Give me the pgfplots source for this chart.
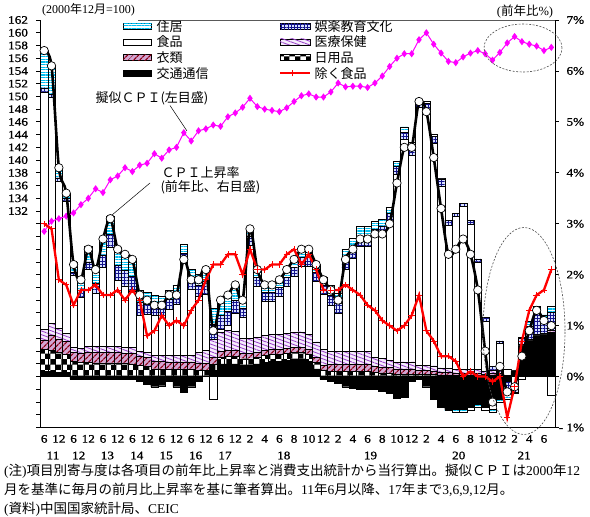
\documentclass[border=0pt]{standalone}
\usepackage{fontspec}
\setmainfont{Liberation Serif}
\newfontfamily\jp{Noto Sans CJK JP}
\newfontfamily\tnum[FakeStretch=1.15,FakeBold=1]{Liberation Serif}
\usepackage{pgfplots}
\usepackage{pgfplotstable}
\pgfplotsset{compat=1.18}
\usetikzlibrary{patterns,patterns.meta}
\newcommand\J[1]{{\jp #1}}

\definecolor{cyS}{RGB}{0,190,240}
\definecolor{navyS}{RGB}{20,20,140}
\definecolor{gridbg}{RGB}{215,225,255}
\definecolor{medbg}{RGB}{245,236,252}
\definecolor{medfg}{RGB}{150,60,200}
\definecolor{clbg}{RGB}{210,165,210}
\definecolor{clfg}{RGB}{140,0,20}
\definecolor{mag}{RGB}{255,0,255}

\tikzset{
 barline/.style={draw=black, line width=0.45pt},
 sB/.style={barline, fill=black},
 sD/.style={barline, fill=white, postaction={pattern=checkerboard, pattern color=black}},
 sC/.style={barline, fill=clbg, postaction={pattern={Lines[angle=45,distance=4pt,line width=1.3pt]}, pattern color=clfg}},
 sM/.style={barline, fill=medbg, postaction={pattern={Lines[angle=-20,distance=3.5pt,line width=0.8pt]}, pattern color=medfg}},
 sF/.style={barline, fill=white},
 sE/.style={barline, fill=gridbg, postaction={pattern={Lines[angle=0,distance=3.2pt,line width=0.9pt]}, pattern color=navyS}, postaction={pattern={Lines[angle=90,distance=3.2pt,line width=0.9pt]}, pattern color=navyS}},
 sH/.style={barline, fill=white, postaction={pattern={Lines[angle=0,distance=2.6pt,line width=1.2pt]}, pattern color=cyS}},
}

\pgfplotstableread{
i B D C M F E H cpi core pc
0 0.10 0.44 0.18 0.20 4.67 0.08 0.74 6.4 3.0 128.8
1 0.10 0.42 0.30 0.22 4.44 0.07 0.55 6.1 2.9 130.4
2 0.08 0.40 0.26 0.20 2.90 0.06 0.20 4.1 1.9 130.8
3 0.08 0.35 0.26 0.16 2.60 0.05 0.10 3.6 1.8 131.2
4 -0.05 0.30 0.18 0.10 1.40 0.07 0.20 2.2 1.4 131.7
5 -0.05 0.28 0.17 0.10 1.00 0.15 0.25 1.9 1.7 133.0
6 -0.05 0.28 0.20 0.12 1.50 0.15 0.30 2.5 1.7 134.0
7 -0.05 0.27 0.20 0.12 1.05 0.20 0.30 2.1 1.8 135.5
8 -0.05 0.27 0.20 0.12 1.55 0.25 0.35 2.7 1.6 134.9
9 -0.05 0.27 0.20 0.12 1.95 0.25 0.35 3.1 1.6 136.9
10 -0.05 0.27 0.20 0.12 1.30 0.30 0.35 2.5 1.7 137.5
11 -0.05 0.26 0.20 0.12 1.20 0.30 0.35 2.4 1.5 138.8
12 -0.05 0.25 0.20 0.12 1.10 0.30 0.35 2.3 1.7 138.2
13 -0.10 0.22 0.18 0.10 0.70 0.25 0.25 1.6 1.5 139.2
14 -0.15 0.20 0.17 0.10 0.75 0.20 0.23 1.5 0.8 139.5
15 -0.20 0.15 0.15 0.12 0.78 0.20 0.20 1.4 0.9 141.0
16 -0.18 0.15 0.15 0.12 0.78 0.20 0.18 1.4 1.2 140.3
17 -0.10 0.14 0.15 0.13 0.90 0.20 0.18 1.6 1.0 141.6
18 -0.20 0.14 0.15 0.13 1.00 0.20 0.18 1.6 1.1 142.0
19 -0.30 0.14 0.15 0.13 1.80 0.20 0.18 2.3 1.0 144.3
20 -0.20 0.14 0.15 0.13 1.30 0.20 0.18 1.9 1.3 143.0
21 -0.10 0.13 0.14 0.20 1.10 0.23 0.20 1.9 1.5 144.6
22 0.00 0.13 0.14 0.25 1.10 0.25 0.23 2.1 1.9 144.9
23 0.12 0.13 0.13 0.35 -0.45 0.30 0.32 0.9 2.2 145.5
24 0.25 0.13 0.12 0.38 0.05 0.27 0.30 1.5 2.2 145.3
25 0.25 0.14 0.12 0.40 0.10 0.27 0.32 1.6 2.4 146.8
26 0.25 0.14 0.12 0.38 0.35 0.26 0.30 1.8 2.4 147.4
27 0.22 0.13 0.10 0.30 0.42 0.18 0.15 1.5 2.0 148.3
28 0.22 0.13 0.10 0.30 1.82 0.18 0.15 2.9 2.5 149.7
29 0.25 0.13 0.10 0.30 0.99 0.18 0.15 2.1 2.1 148.4
30 0.28 0.13 0.10 0.30 0.66 0.18 0.15 1.8 2.1 148.0
31 0.30 0.13 0.10 0.30 0.64 0.18 0.15 1.8 2.2 147.8
32 0.30 0.13 0.10 0.30 0.74 0.18 0.15 1.9 2.2 147.6
33 0.32 0.13 0.10 0.30 0.92 0.18 0.15 2.1 2.4 148.2
34 0.35 0.13 0.10 0.30 1.09 0.18 0.15 2.3 2.5 149.2
35 0.35 0.13 0.10 0.30 1.29 0.18 0.15 2.5 2.2 150.1
36 0.30 0.13 0.10 0.30 1.34 0.18 0.15 2.5 2.4 150.4
37 0.15 0.13 0.10 0.30 1.19 0.18 0.15 2.2 2.1 149.9
38 -0.05 0.13 0.10 0.30 1.09 0.18 0.15 1.9 1.7 149.9
39 -0.10 0.10 0.14 0.25 0.91 0.20 0.20 1.7 1.7 150.7
40 -0.14 0.10 0.14 0.25 0.75 0.20 0.20 1.5 1.7 152.1
41 -0.20 0.10 0.14 0.25 1.61 0.20 0.20 2.3 1.8 151.5
42 -0.22 0.10 0.14 0.25 1.83 0.20 0.20 2.5 1.7 151.6
43 -0.25 0.10 0.14 0.25 2.06 0.20 0.20 2.7 1.6 151.6
44 -0.25 0.10 0.14 0.25 2.06 0.20 0.20 2.7 1.4 151.4
45 -0.25 0.08 0.12 0.18 2.37 0.15 0.15 2.8 1.3 152.1
46 -0.28 0.07 0.12 0.17 2.45 0.15 0.12 2.8 1.1 153.2
47 -0.32 0.06 0.12 0.15 2.72 0.15 0.12 3.0 1.0 154.7
48 -0.42 0.05 0.10 0.14 3.68 0.15 0.10 3.8 0.9 156.0
49 -0.40 0.05 0.10 0.14 4.36 0.15 0.10 4.5 1.0 156.7
50 -0.10 0.05 0.10 0.14 4.06 0.15 0.10 4.5 1.2 156.7
51 -0.05 0.04 0.08 0.10 5.06 0.12 0.05 5.4 1.6 158.9
52 -0.20 0.04 0.08 0.10 5.00 0.15 0.03 5.2 0.9 160.0
53 -0.45 0.04 0.07 0.10 4.37 0.14 0.03 4.3 0.7 158.2
54 -0.60 0.03 0.06 0.08 3.56 0.15 0.02 3.3 0.4 156.8
55 -0.65 0.03 0.05 0.08 2.81 0.10 -0.02 2.4 0.4 155.5
56 -0.65 0.03 0.04 0.07 3.00 0.06 -0.05 2.5 0.3 155.3
57 -0.65 0.03 0.04 0.07 3.20 0.06 -0.05 2.7 0.0 156.2
58 -0.60 0.03 0.04 0.07 2.86 0.06 -0.06 2.4 0.1 156.8
59 -0.55 0.03 0.04 0.07 2.11 0.06 -0.06 1.7 0.0 157.2
60 -0.60 0.02 0.03 0.06 0.97 0.08 -0.06 0.5 0.0 156.7
61 -0.45 0.03 0.03 0.07 -0.20 0.07 -0.05 -0.5 -0.1 155.7
62 -0.45 0.03 0.03 0.07 0.52 0.05 -0.05 0.2 0.0 156.9
63 -0.10 0.01 0.00 0.02 0.12 -0.20 -0.15 -0.3 -0.8 158.4
64 0.10 0.01 0.00 0.02 -0.25 -0.05 -0.03 -0.2 -0.2 159.4
65 0.58 0.02 0.01 0.02 -0.05 0.12 0.03 0.4 0.7 158.6
66 0.68 0.02 0.01 0.03 0.00 0.25 0.10 0.9 1.3 158.2
67 0.78 0.02 0.01 0.03 0.00 0.40 0.15 1.3 1.6 157.9
68 0.80 0.02 0.01 0.03 0.00 0.25 0.10 1.1 1.7 157.2
69 0.85 0.02 0.01 0.03 -0.37 0.35 0.13 1.0 2.1 157.7
}\data

\pgfplotsset{base/.style={width=514.5pt,height=407.5pt,scale only axis,at={(0pt,0pt)},anchor=south west,xmin=-0.5,xmax=69.5,clip=false}}

\begin{document}
\begin{tikzpicture}
\path[use as bounding box] (-40.5pt,-89.5pt) rectangle (549.5pt,427.5pt);

% positive contributions
\begin{axis}[base, ybar stacked, bar width=1, ymin=-1, ymax=7,
  axis x line*=bottom, axis y line*=right,
  axis line style={line width=0.9pt},
  xtick={0,2,...,68},
  xticklabels={6,12,6,12,6,12,6,12,6,12,6,12,6,12,2,4,6,8,10,12,2,4,6,8,10,12,2,4,6,8,10,12,2,4,6},
  major x tick style={draw=none},
  ytick={-1,0,...,7},
  yticklabels={{\llap{- }1\%},0\%,1\%,2\%,3\%,4\%,5\%,6\%,7\%},
  tick align=outside, major tick length=4pt,
  y tick style={black,line width=0.8pt},
  ticklabel style={font=\tnum\fontsize{11.5}{13}\selectfont},
  xticklabel style={inner xsep=0pt},
  yticklabel style={xshift=4pt},
]
\addplot[sB] table[x=i,y expr={max(\thisrow{B},0)}]{\data};
\addplot[sD] table[x=i,y expr={max(\thisrow{D},0)}]{\data};
\addplot[sC] table[x=i,y expr={max(\thisrow{C},0)}]{\data};
\addplot[sM] table[x=i,y expr={max(\thisrow{M},0)}]{\data};
\addplot[sF] table[x=i,y expr={max(\thisrow{F},0)}]{\data};
\addplot[sE] table[x=i,y expr={max(\thisrow{E},0)}]{\data};
\addplot[sH] table[x=i,y expr={max(\thisrow{H},0)}]{\data};
\foreach \p/\t in {1.2/11,4.7/12,8.6/13,12.6/14,16.6/15,20.6/16,24.6/17,32.6/18,44.4/19,56.4/20,65.3/21}{
  \edef\tmp{\noexpand\node[font=\noexpand\tnum\noexpand\fontsize{11.5}{13}\noexpand\selectfont, yshift=-28pt] at (axis cs:\p,-1) {\t};}\tmp
}
\end{axis}

% negative contributions
\begin{axis}[base, ybar stacked, bar width=1, ymin=-1, ymax=7, hide axis]
\addplot[sB] table[x=i,y expr={min(\thisrow{B},0)}]{\data};
\addplot[sD] table[x=i,y expr={min(\thisrow{D},0)}]{\data};
\addplot[sC] table[x=i,y expr={min(\thisrow{C},0)}]{\data};
\addplot[sM] table[x=i,y expr={min(\thisrow{M},0)}]{\data};
\addplot[sF] table[x=i,y expr={min(\thisrow{F},0)}]{\data};
\addplot[sE] table[x=i,y expr={min(\thisrow{E},0)}]{\data};
\addplot[sH] table[x=i,y expr={min(\thisrow{H},0)}]{\data};
\end{axis}

% pseudo CPI, left scale
\begin{axis}[base, ymin=98, ymax=162, axis y line*=left, axis x line=none,
  axis line style={line width=0.9pt},
  ytick={98,100,...,162},
  yticklabels={,,,,,,,,,,,,,,,,,132,134,136,138,140,142,144,146,148,150,152,154,156,158,160,162},
  tick align=outside, major tick length=4pt,
  y tick style={black,line width=0.8pt},
  ticklabel style={font=\tnum\fontsize{11.5}{13}\selectfont},
  yticklabel style={xshift=-5pt},
]
\addplot[mag, line width=1pt, mark=diamond*, mark size=2.8pt, mark options={solid}] table[x=i,y=pc]{\data};
\end{axis}

% lines, right scale
\begin{axis}[base, ymin=-1, ymax=7, hide axis]
\addplot[black, line width=2.6pt, smooth, mark=*, mark size=4.2pt, mark options={fill=white,draw=black,line width=0.7pt,solid}] table[x=i,y=cpi]{\data};
\addplot[red, line width=2.3pt, mark=+, mark size=3.2pt, mark options={line width=0.8pt,solid}] table[x=i,y=core]{\data};
\end{axis}

% top border
\draw[gray!70!black, line width=0.7pt] (97.5pt,407.5pt) -- (514.5pt,407.5pt);

% legend
\begin{scope}[font=\jp\fontsize{13}{15}\selectfont]
\draw[sH] (82.8pt,398.2pt) rectangle (111.2pt,404.2pt);
\node[anchor=west] at (112.5pt,401.2pt) {住居};
\draw[sF] (82.8pt,382.5pt) rectangle (111.2pt,388.5pt);
\node[anchor=west] at (112.5pt,385.5pt) {食品};
\draw[sC] (82.8pt,366.8pt) rectangle (111.2pt,372.8pt);
\node[anchor=west] at (112.5pt,369.8pt) {衣類};
\draw[sB] (82.8pt,351.2pt) rectangle (111.2pt,357.2pt);
\node[anchor=west] at (112.5pt,354.2pt) {交通通信};
\draw[sE] (239.5pt,398.2pt) rectangle (269.5pt,404.2pt);
\node[anchor=west] at (270.5pt,401.2pt) {娯楽教育文化};
\draw[sM] (239.5pt,382.5pt) rectangle (269.5pt,388.5pt);
\node[anchor=west] at (270.5pt,385.5pt) {医療保健};
\draw[sD] (239.5pt,366.8pt) rectangle (269.5pt,372.8pt);
\node[anchor=west] at (270.5pt,369.8pt) {日用品};
\draw[red, line width=2.3pt] (239.5pt,354.2pt) -- (269.5pt,354.2pt);
\draw[red, line width=0.8pt] (251.5pt,354.2pt) ++(-3.2pt,0) -- ++(6.4pt,0) ++(-3.2pt,-3.2pt) -- ++(0,6.4pt);
\node[anchor=west] at (270.5pt,354.2pt) {除く食品};
\end{scope}

% annotations
\node[font=\jp\fontsize{13}{15}\selectfont] at (111.5pt,329.5pt) {擬似ＣＰＩ(左目盛)};
\draw[black, line width=0.5pt] (129.5pt,322pt) -- (146.5pt,296.5pt);
\node[font=\jp\fontsize{13}{15}\selectfont, anchor=west] at (117.5pt,254.5pt) {ＣＰＩ上昇率};
\node[font=\jp\fontsize{13}{15}\selectfont, anchor=west] at (116.5pt,240.5pt) {(前年比、右目盛)};
\draw[black, line width=0.5pt] (109.5pt,244.5pt) -- (71.5pt,212.5pt);

\draw[gray!60!black, line width=0.6pt, dash pattern=on 2pt off 1.5pt] (482.5pt,379.5pt) ellipse [x radius=39pt, y radius=24pt];
\draw[gray!60!black, line width=0.6pt, dash pattern=on 2pt off 1.5pt] (483.5pt,96.5pt) ellipse [x radius=41pt, y radius=103.5pt];

\node[font=\fontsize{12}{14}\selectfont] at (48pt,417.5pt) {(2000\J{年}12\J{月}=100)};
\node[font=\fontsize{12.5}{14}\selectfont] at (484.5pt,415.5pt) {(\J{前年比}\%)};

% notes
\begin{scope}[font=\fontsize{13.5}{15}\selectfont]
\node[anchor=west, inner sep=0pt] at (-36.5pt,-43.5pt) {(\J{注})\J{項目別寄与度は各項目の前年比上昇率と消費支出統計から当行算出。擬似ＣＰＩは}2000\J{年}12};
\node[anchor=west, inner sep=0pt] at (-36.5pt,-62.5pt) {\J{月を基準に毎月の前月比上昇率を基に筆者算出。}11\J{年}6\J{月以降、}17\J{年まで}3,6,9,12\J{月。}};
\node[anchor=west, inner sep=0pt] at (-36.5pt,-81.5pt) {(\J{資料})\J{中国国家統計局、}CEIC};
\end{scope}
\end{tikzpicture}
\end{document}
